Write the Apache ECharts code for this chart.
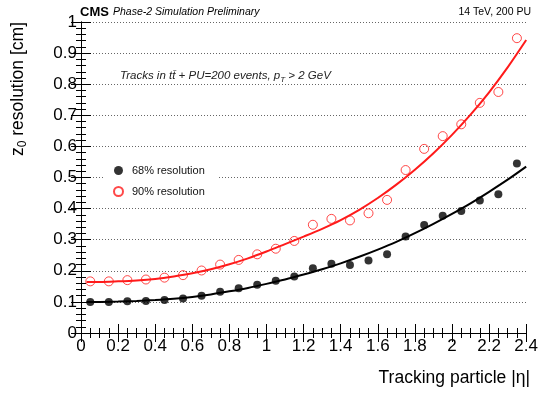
<!DOCTYPE html>
<html>
<head>
<meta charset="utf-8">
<script src="https://cdn.jsdelivr.net/npm/echarts@6/dist/echarts.min.js"></script>
<style>
  html, body { margin: 0; padding: 0; background: #fff; }
  #chart { width: 541px; height: 394px; }
</style>
</head>
<body>
<div id="chart"></div>
<script>
// |eta| bin centres and measured z0 resolution (cm)
const etaBins = [0.05, 0.15, 0.25, 0.35, 0.45, 0.55, 0.65, 0.75, 0.85, 0.95, 1.05, 1.15,
                 1.25, 1.35, 1.45, 1.55, 1.65, 1.75, 1.85, 1.95, 2.05, 2.15, 2.25, 2.35];
const res68 = [0.100, 0.100, 0.102, 0.103, 0.106, 0.111, 0.120, 0.133, 0.144, 0.155, 0.168, 0.182,
               0.208, 0.223, 0.219, 0.233, 0.253, 0.310, 0.347, 0.377, 0.392, 0.426, 0.446, 0.545];
const res90 = [0.166, 0.166, 0.170, 0.172, 0.178, 0.186, 0.201, 0.220, 0.235, 0.253, 0.271, 0.296,
               0.348, 0.367, 0.362, 0.385, 0.428, 0.524, 0.592, 0.633, 0.671, 0.740, 0.775, 0.948];

// fitted curves
const fitEta = [0.03, 0.1, 0.2, 0.3, 0.4, 0.5, 0.6, 0.7, 0.8, 0.9, 1.0, 1.1, 1.2,
                1.3, 1.4, 1.5, 1.6, 1.7, 1.8, 1.9, 2.0, 2.1, 2.2, 2.3, 2.4];
const fit68 = [0.100, 0.100, 0.101, 0.103, 0.106, 0.110, 0.116, 0.124, 0.134, 0.145, 0.158, 0.172, 0.188,
               0.205, 0.224, 0.245, 0.268, 0.293, 0.321, 0.351, 0.383, 0.417, 0.454, 0.493, 0.535];
const fit90 = [0.164, 0.164, 0.166, 0.169, 0.174, 0.182, 0.192, 0.205, 0.221, 0.240, 0.262, 0.286, 0.310,
               0.335, 0.363, 0.396, 0.434, 0.477, 0.525, 0.578, 0.637, 0.702, 0.774, 0.854, 0.942];

const FONT = 'Liberation Sans';
const RED = '#ff1a1a';

const zip = (xs, ys) => xs.map((x, i) => [x, ys[i]]);

const chart = echarts.init(document.getElementById('chart'), null, { renderer: 'canvas' });

const frameAxis = {
  axisLine: { show: true, lineStyle: { color: '#000', width: 1 } },
  splitLine: { show: false },
};

chart.setOption({
  animation: false,
  backgroundColor: '#fff',
  textStyle: { fontFamily: FONT },
  grid: { left: 81, right: 11, top: 22, bottom: 61, containLabel: false },
  xAxis: [
    {
      ...frameAxis,
      type: 'value', min: 0, max: 2.4, interval: 0.2, position: 'bottom',
      axisTick: { inside: true, length: 9, lineStyle: { color: '#000' } },
      minorTick: { show: true, splitNumber: 4, length: 5, lineStyle: { color: '#000' } },
      axisLabel: { fontSize: 17, color: '#000', margin: 5, fontFamily: FONT },
    },
    {
      ...frameAxis,
      type: 'value', min: 0, max: 2.4, interval: 0.2, position: 'top',
      axisTick: { inside: true, length: 9, lineStyle: { color: '#000' } },
      minorTick: { show: true, splitNumber: 4, length: 5, lineStyle: { color: '#000' } },
      axisLabel: { show: false },
    },
  ],
  yAxis: [
    {
      ...frameAxis,
      type: 'value', min: 0, max: 1, interval: 0.1, position: 'left',
      axisTick: { inside: true, length: 10, lineStyle: { color: '#000' } },
      minorTick: { show: true, splitNumber: 5, length: 5, lineStyle: { color: '#000' } },
      axisLabel: { fontSize: 17, color: '#000', margin: 4, fontFamily: FONT },
      splitLine: { show: true, lineStyle: { color: '#666', type: [1, 2], width: 1 } },
    },
    {
      ...frameAxis,
      type: 'value', min: 0, max: 1, interval: 0.1, position: 'right',
      axisTick: { inside: true, length: 10, lineStyle: { color: '#000' } },
      minorTick: { show: true, splitNumber: 5, length: 5, lineStyle: { color: '#000' } },
      axisLabel: { show: false },
    },
  ],
  legend: {
    data: ['68% resolution', '90% resolution'],
    orient: 'vertical',
    left: 113, top: 165,
    padding: 0,
    itemGap: 10,
    itemWidth: 9, itemHeight: 9,
    textStyle: { fontSize: 11, color: '#111', fontFamily: FONT, padding: [0, 0, 0, 4] },
  },
  graphic: [
    { type: 'rect', z: 1, shape: { x: 103, y: 160, width: 115, height: 40 }, style: { fill: '#fff' } },
    { type: 'text', x: 80, y: 12, style: { text: 'CMS', font: 'bold 13px ' + FONT, fill: '#000', textVerticalAlign: 'middle' } },
    { type: 'text', x: 113, y: 12, style: { text: 'Phase-2 Simulation Preliminary', font: 'italic 10.5px ' + FONT, fill: '#000', textVerticalAlign: 'middle' } },
    { type: 'text', x: 531, y: 12, style: { text: '14 TeV, 200 PU', font: '10.5px ' + FONT, fill: '#000', textAlign: 'right', textVerticalAlign: 'middle' } },
    {
      type: 'text', x: 120, y: 76,
      style: {
        text: '{i|Tracks in t\u0074\u0304 + PU=200 events, p}{s|T}{i| > 2 GeV}',
        textVerticalAlign: 'middle',
        rich: {
          i: { font: 'italic 11.5px ' + FONT, fill: '#222', lineHeight: 16, verticalAlign: 'middle' },
          s: { font: 'italic 8px ' + FONT, fill: '#222', lineHeight: 16, verticalAlign: 'bottom', padding: [6, 0, 0, 0] },
        },
      },
    },
    {
      type: 'text', x: 18, y: 22, rotation: Math.PI / 2,
      style: {
        text: '{m|z}{s|0}{m| resolution [cm]}',
        textAlign: 'right', textVerticalAlign: 'middle',
        rich: {
          m: { font: '17.5px ' + FONT, fill: '#000', lineHeight: 22, verticalAlign: 'middle' },
          s: { font: '12px ' + FONT, fill: '#000', lineHeight: 22, verticalAlign: 'bottom', padding: [8, 0, 0, 0] },
        },
      },
    },
    { type: 'text', x: 530, y: 378, style: { text: 'Tracking particle |\u03b7|', font: '17.5px ' + FONT, fill: '#000', textAlign: 'right', textVerticalAlign: 'middle' } },
  ],
  series: [
    {
      name: 'fit68', type: 'line', data: zip(fitEta, fit68), smooth: 0.3,
      showSymbol: false, lineStyle: { color: '#000', width: 2 }, z: 3,
    },
    {
      name: 'fit90', type: 'line', data: zip(fitEta, fit90), smooth: 0.3,
      showSymbol: false, lineStyle: { color: RED, width: 2 }, z: 3,
    },
    {
      name: '68% resolution', type: 'scatter', data: zip(etaBins, res68),
      symbol: 'circle', symbolSize: 8, itemStyle: { color: '#000' }, z: 4,
    },
    {
      name: '90% resolution', type: 'scatter', data: zip(etaBins, res90),
      symbol: 'circle', symbolSize: 9,
      itemStyle: { color: 'rgba(255,255,255,0)', borderColor: RED, borderWidth: 1 }, z: 4,
    },
  ],
});
</script>
</body>
</html>
